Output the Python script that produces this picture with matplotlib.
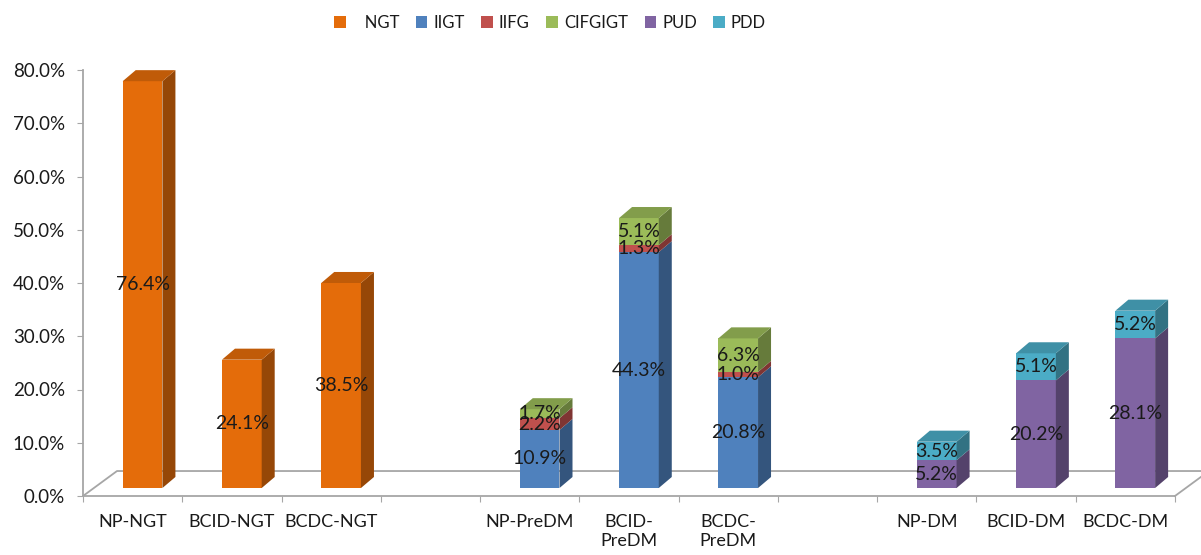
import matplotlib.pyplot as plt
from matplotlib.patches import Polygon, Patch
from matplotlib.colors import to_rgb

plt.rcParams['font.family'] = ['Lato', 'DejaVu Sans']

categories = ['NP-NGT', 'BCID-NGT', 'BCDC-NGT',
              'NP-PreDM', 'BCID-\nPreDM', 'BCDC-\nPreDM',
              'NP-DM', 'BCID-DM', 'BCDC-DM']
slots = [0, 1, 2, 4, 5, 6, 8, 9, 10]   # one empty slot between groups

series_names = ['   NGT', 'IIGT', 'IIFG', 'CIFGIGT', 'PUD', 'PDD']
NGT     = [76.4, 24.1, 38.5, 0, 0, 0, 0, 0, 0]
IIGT    = [0, 0, 0, 10.9, 44.3, 20.8, 0, 0, 0]
IIFG    = [0, 0, 0, 2.2, 1.3, 1.0, 0, 0, 0]
CIFGIGT = [0, 0, 0, 1.7, 5.1, 6.3, 0, 0, 0]
PUD     = [0, 0, 0, 0, 0, 0, 5.2, 20.2, 28.1]
PDD     = [0, 0, 0, 0, 0, 0, 3.5, 5.1, 5.2]
series = [NGT, IIGT, IIFG, CIFGIGT, PUD, PDD]
colors = ['#E46C0A', '#4F81BD', '#C0504D', '#9BBB59', '#8064A2', '#4BACC6']

yticks = [0, 10, 20, 30, 40, 50, 60, 70, 80]


def shade(c, f):
    r, g, b = to_rgb(c)
    return (r * f, g * f, b * f)


fig = plt.figure(figsize=(12.01, 5.55), dpi=100)
# x: 0 at px 83, 99.27 px per slot ; y: 0 at px 496, 5.325 px per %
ax = fig.add_axes([83 / 1201, 0, 1 - 83 / 1201, 1])
ax.set_xlim(0, (1201 - 83) / 99.27)
ax.set_ylim(-(555 - 496) / 5.325, 496 / 5.325)

grey = '#A6A6A6'
txt = '#1a1a1a'

# floor (pseudo 3D)
fdx, fdy = 0.3425, 4.69
ax.plot([0, fdx, 11 + fdx, 11], [0, fdy, fdy, 0], color=grey, lw=1.3, zorder=1)

for s in ['top', 'right']:
    ax.spines[s].set_visible(False)
ax.spines['left'].set_bounds(0, 80)
ax.spines['bottom'].set_position(('data', 0))
ax.spines['bottom'].set_bounds(0, 11)
for s in ['left', 'bottom']:
    ax.spines[s].set_color(grey)
    ax.spines[s].set_linewidth(1.3)

ax.set_yticks(yticks)
ax.set_yticklabels(['%.1f%%' % v for v in yticks])
ax.tick_params(axis='y', length=4, color=grey, pad=9, labelsize=13.5, labelcolor=txt)

ax.set_xticks(range(12))
ax.set_xticklabels([])
ax.tick_params(axis='x', which='major', length=4, color=grey)
ax.set_xticks([s + 0.5 for s in slots], minor=True)
ax.set_xticklabels(categories, minor=True)
ax.tick_params(axis='x', which='minor', length=0, pad=13, labelsize=13, labelcolor=txt)
for lab in ax.get_xticklabels(minor=True):
    lab.set_verticalalignment('top')
    lab.set_linespacing(1.2)

# bars
base = 1.5
left_off, width = 0.40, 0.40
dx, dy = 0.131, 2.07

for i, slot in enumerate(slots):
    x0 = slot + left_off
    x1 = x0 + width
    bottom = base
    segs = [(series[k][i], colors[k]) for k in range(len(series)) if series[k][i] > 0]
    for j, (v, c) in enumerate(segs):
        top = bottom + v
        ax.bar(x0, v, width=width, bottom=bottom, align='edge', color=c,
               edgecolor='none', zorder=3)
        ax.add_patch(Polygon([(x1, bottom), (x1 + dx, bottom + dy), (x1 + dx, top + dy), (x1, top)],
                             closed=True, facecolor=shade(c, 0.66), edgecolor='none', zorder=3))
        if j == len(segs) - 1:
            ax.add_patch(Polygon([(x0, top), (x0 + dx, top + dy), (x1 + dx, top + dy), (x1, top)],
                                 closed=True, facecolor=shade(c, 0.84), edgecolor='none', zorder=3))
        ax.text(x0 + width / 2, bottom + v / 2, '%.1f%%' % v, ha='center', va='center',
                fontsize=14, color=txt, zorder=5)
        bottom = top

handles = [Patch(facecolor=c, edgecolor='none') for c in colors]
fig.legend(handles, series_names, loc='upper center', bbox_to_anchor=(0.458, 1.0), ncol=6,
           frameon=False, fontsize=12, handlelength=0.7, handleheight=0.7,
           handletextpad=0.35, columnspacing=1.0, labelcolor=txt)

fig.savefig('out.png', dpi=100)
